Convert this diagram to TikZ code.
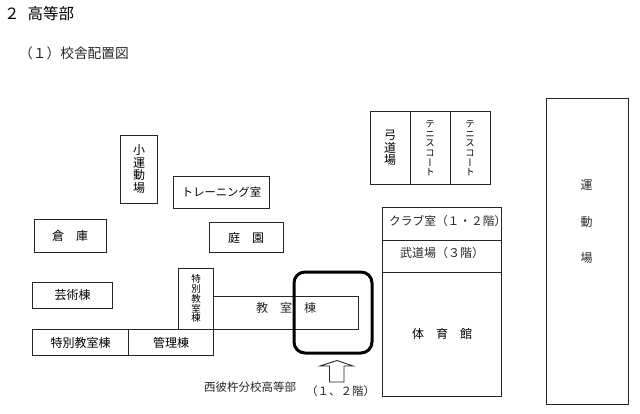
\documentclass[tikz,border=0pt]{standalone}
\usepackage{fontspec}
\setmainfont{Noto Sans CJK JP}
\newfontfamily\vertfont[RawFeature=+vert]{Noto Sans CJK JP}
\usetikzlibrary{shapes, calc}

\begin{document}
\begin{tikzpicture}[x=1pt, y=-1pt]
\tikzset{
  room/.style={draw=black!85, line width=0.9pt, inner sep=0pt, align=center, font=\fontsize{12}{14}\selectfont},
  tategaki/.style={room, font=\fontsize{12}{12.5}\selectfont},
  tategakismall/.style={room, font=\fontsize{9.5}{9.7}\selectfont\vertfont},
  caption/.style={inner sep=0pt, text=black!85, font=\fontsize{12}{14}\selectfont}
  };

\useasboundingbox (0,0) rectangle (640,414);

\node[caption, anchor=west, text=black, font=\fontsize{15.5}{17}\selectfont] (title) at (4,14) {２\hspace{8pt}高等部};
\node[caption, anchor=west, font=\fontsize{13.7}{16}\selectfont] (subtitle) at (19,53) {（１）校舎配置図};

\node[tategaki, minimum width=37, minimum height=68] (smallfield) at (139,169) {小\\運\\動\\場};
\node[room, minimum width=96, minimum height=32, font=\fontsize{11.3}{14}\selectfont] (training) at (221.5,192) {トレーニング室};
\node[room, minimum width=72.5, minimum height=33] (storage) at (70.2,235.5) {倉　庫};
\node[room, minimum width=74.5, minimum height=30] (garden) at (246.2,237.5) {庭　園};
\node[room, minimum width=80, minimum height=26] (arts) at (72.5,295) {芸術棟};

\node[tategakismall, minimum width=35.5, minimum height=60.5] (specialv) at (196,298.7) {特\\別\\教\\室\\棟};
\node[room, minimum width=144.5, minimum height=33.5] (classroom) at (285.7,312.7) {};
\node[caption] (classroomtext) at (286,308) {教　室　棟};
\node[room, minimum width=96, minimum height=26] (specialh) at (80.5,342.5) {特別教室棟};
\node[room, minimum width=85, minimum height=26] (admin) at (171,342.5) {管理棟};

\node[draw=black, line width=3pt, rounded corners=11pt, minimum width=78, minimum height=81, inner sep=0pt] (highlight) at (333,312.5) {};

% arrow under the marked room
\draw[black!85, line width=0.9pt] (337,360.5) -- (353,366) -- (344,366) -- (344,382) -- (329.5,382) -- (329.5,366) -- (320,366) -- cycle;
\node[caption, anchor=west, font=\fontsize{11.5}{14}\selectfont] (school) at (204,387) {西彼杵分校高等部};
\node[caption, anchor=west, font=\fontsize{11.5}{14}\selectfont] (floors) at (306,391) {（１、２階）};

\node[tategaki, minimum width=39.5, minimum height=73.5] (archery) at (390.2,148.2) {弓\\道\\場};
\node[tategakismall, minimum width=40, minimum height=73.5] (tennisa) at (430,148.2) {テ\\ニ\\ス\\コ\\ー\\ト};
\node[tategakismall, minimum width=40.5, minimum height=73.5] (tennisb) at (470.2,148.2) {テ\\ニ\\ス\\コ\\ー\\ト};

\node[room, minimum width=119, minimum height=33] (club) at (442.2,223.8) {};
\node[caption, anchor=west, font=\fontsize{11.7}{14}\selectfont] (clubtext) at (389,220.7) {クラブ室（１・２階）};
\node[room, minimum width=119, minimum height=32] (budo) at (442.2,256.3) {};
\node[caption] (budotext) at (442,253.3) {武道場（３階）};
\node[room, minimum width=119, minimum height=123.7] (gym) at (442.2,334.2) {体　育　館};

\node[room, minimum width=82.3, minimum height=306] (field) at (587.2,251) {};
\node[caption, align=center, font=\fontsize{12}{36.5}\selectfont] (fieldtext) at (586.5,222) {運\\動\\場};

\end{tikzpicture}
\end{document}
